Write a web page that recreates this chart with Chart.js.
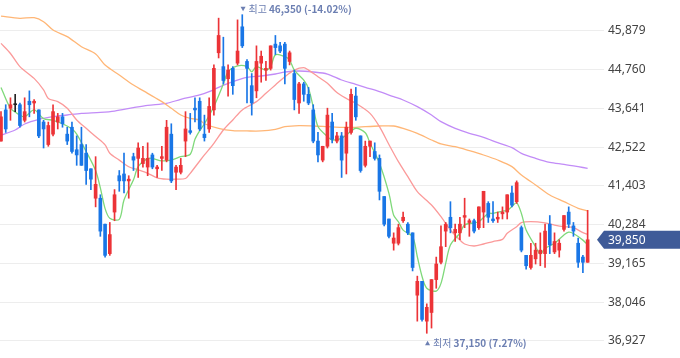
<!DOCTYPE html>
<html><head><meta charset="utf-8">
<script src="https://cdn.jsdelivr.net/npm/chart.js@4"></script>
<style>html,body{margin:0;padding:0;background:#fff;}#wrap{width:680px;height:358px;position:relative;}</style>
</head><body><div id="wrap"><canvas id="c"></canvas></div>
<script>
// ---- candle data (day 1..125) ----
const openP  = [42700,43600,43650,43750,43750,43300,43850,43800,43600,43250,42600,42900,43250,43400,42900,43100,42450,42600,42350,41900,
41050,41050,40300,39450,40650,41700,41750,41550,42250,42200,42050,41950,42300,41900,42200,42150,42900,41800,41800,42700,
43000,43650,43850,42900,43050,43600,45250,44850,44500,44800,44950,46000,45000,44300,44150,44950,44750,44800,45500,45450,
45500,45000,44650,43800,44350,44050,43600,42700,42150,42550,43250,42700,42850,42350,42950,44000,42850,42000,42550,42400,
42200,41100,40450,39750,39750,40400,40300,40050,38250,38650,37500,37750,38700,39200,40100,40500,40050,40050,40500,40350,
40400,40200,40650,40900,40450,40450,40600,40650,41200,40950,40200,39400,39050,39300,39450,39450,40300,39500,39550,40150,
40650,40250,39750,39350,39200];
const highP  = [43550,43750,43950,44050,43800,43950,44150,43900,43600,43300,43250,43750,43500,43500,43100,43250,42850,43100,42600,41900,
42250,41150,40300,40350,41300,41850,42350,41700,42350,42650,42550,42650,42350,42000,42550,43300,43200,42000,42200,43550,
43500,43950,43950,43450,43950,44900,46250,45700,44900,44850,46200,46350,45050,44650,45450,45300,45000,45450,45750,45550,
45550,45300,44750,44400,44400,44250,43750,42950,42550,43650,43500,42950,42950,43250,44200,44250,42850,42700,42700,42650,
42300,41100,40450,40050,40300,40650,40350,40050,38800,38650,38000,38700,39350,40250,40350,40950,40300,40500,41050,40450,
40450,40800,41250,40950,40950,40650,40800,41150,41400,41550,40250,39400,39750,39750,40050,40300,40550,40050,39850,40550,
40800,40350,39900,39400,40700];
const lowP   = [42700,42950,43300,43550,43100,43250,43400,43500,42800,42500,42550,42850,43050,43100,42600,42350,42000,42000,41450,41300,
40800,39950,39350,39400,40400,41250,41200,41050,41850,41650,41950,41700,41900,41650,41850,42100,41500,41300,41750,42250,
42900,43250,43000,42700,42950,43450,45100,44350,44000,44050,44900,45400,43800,43450,43950,44400,44450,44750,45200,45250,
44350,44900,43600,43500,43850,43750,42650,42100,42100,42500,42650,42650,41650,41750,42900,43300,41800,41950,42250,42150,
41000,40250,39900,39550,39700,40350,40000,38950,37500,37500,37150,37300,38450,39150,39650,40050,39800,39850,40200,39950,
40050,40150,40200,40350,40350,40350,40450,40450,40800,40900,39500,39000,39000,39150,39100,39050,39450,39450,39350,40100,
40200,39950,39050,38900,39200];
const closeP = [43400,43050,43750,43750,43150,43550,43750,43850,42850,43050,43150,43550,43400,43200,42700,42400,42300,42000,41850,41600,
41450,40100,39400,40000,41150,41550,41550,41600,42150,42500,42200,42200,41950,41950,42250,43100,41550,41950,42000,43050,
42950,43600,43050,42800,43700,44800,45750,44450,44750,44300,45300,45450,44800,43800,45000,45150,44800,45450,45400,45300,
44800,45250,43900,44350,44050,43800,42700,42300,42550,43450,42750,42850,42150,43100,44050,43400,41850,42550,42700,42200,
41250,40300,39950,39900,40200,40500,40050,39050,38650,37550,37900,38700,39150,39650,40300,40200,40150,40300,40550,40400,
40100,40800,41250,40500,40400,40500,40650,41150,40850,41500,39550,39100,39400,39550,39550,40100,39700,39800,39750,40550,
40300,40100,39200,39200,39850];

// ---- moving averages: [day, value] ----
const ma5 = [[1,44250],[3,43650],[5,43450],[6,43400],[8,43600],[10,43350],[12,43300],[14,43200],[16,43050],[17,42900],[19,42400],[21,41850],[22,41350],[23,40750],[24,40470],[26,40440],[27,41000],[29,41580],[30,41960],[32,42200],[33,42200],[35,42130],[37,42150],[39,42250],[41,42320],[42,42750],[43,43000],[44,43200],[46,43700],[48,44350],[49,44700],[51,44870],[53,44850],[54,44700],[55,44850],[57,44750],[58,44850],[59,45190],[61,45140],[62,45040],[63,44750],[65,44460],[66,44220],[67,43690],[68,43120],[70,42830],[71,42730],[73,42780],[74,42875],[76,43070],[78,42940],[79,42640],[81,42060],[83,41190],[84,40560],[85,40370],[86,40130],[88,39940],[89,39360],[90,38790],[91,38450],[93,38370],[94,38590],[95,39170],[96,39700],[98,40040],[99,40280],[101,40340],[102,40370],[104,40610],[105,40610],[107,40680],[108,40690],[109,40810],[110,40920],[111,40610],[112,40130],[114,39650],[115,39440],[116,39600],[118,39750],[120,39990],[121,40070],[122,40030],[124,39840],[125,39700]];
const ma20 = [[1,45520],[3,45230],[5,44850],[8,44510],[10,44180],[11,43930],[13,43840],[15,43650],[17,43310],[19,43070],[21,42830],[23,42590],[24,42350],[26,42150],[28,41960],[30,41870],[32,41770],[34,41640],[36,41600],[38,41600],[40,41620],[41,41770],[43,42125],[44,42300],[46,42635],[48,43020],[50,43310],[52,43600],[55,43840],[57,44080],[59,44320],[61,44560],[63,44750],[65,44820],[66,44750],[68,44560],[70,44370],[72,44100],[74,43930],[76,43790],[79,43500],[81,43116],[83,42600],[85,42105],[87,41672],[89,41240],[92,40854],[94,40517],[96,40132],[98,39843],[99,39728],[101,39670],[103,39728],[105,39800],[107,39863],[108,40036],[110,40228],[111,40344],[113,40373],[116,40340],[118,40276],[120,40228],[122,40200],[124,40055],[125,40007]];
const ma60 = [[1,46310],[5,46245],[8,46264],[10,46148],[12,45908],[15,45715],[18,45426],[21,45215],[23,44897],[26,44608],[29,44319],[32,44079],[35,43838],[37,43646],[39,43453],[41,43357],[43,43309],[44,43200],[47,43068],[50,43001],[53,42992],[56,42992],[59,43039],[61,43116],[64,43145],[67,43135],[70,43116],[73,43097],[76,43097],[78,43116],[81,43135],[84,43135],[86,43068],[89,42924],[92,42731],[94,42616],[97,42539],[100,42423],[103,42298],[106,42153],[109,41961],[111,41720],[114,41432],[117,41143],[120,40950],[123,40758],[125,40681]];
const ma120 = [[1,42875],[4,43020],[6,43193],[9,43328],[12,43405],[15,43453],[18,43501],[22,43530],[25,43568],[29,43665],[32,43732],[36,43790],[39,43905],[43,44031],[45,44127],[47,44252],[50,44416],[53,44541],[56,44579],[59,44637],[61,44695],[64,44724],[67,44695],[70,44637],[73,44464],[76,44339],[78,44252],[81,44127],[84,43982],[86,43886],[89,43694],[92,43453],[94,43261],[97,43068],[100,42924],[103,42808],[106,42654],[109,42510],[111,42346],[114,42202],[117,42086],[120,42028],[123,41961],[125,41913]];

// ---- axis ticks ----
const tickValues = [36927,38046,39165,40284,41403,42522,43641,44760,45879];
const tickLabels = ['36,927','38,046','39,165','40,284','41,403','42,522','43,641','44,760','45,879'];

// ---- annotation texts ----
const hiLabel = ['최고', '46,350 (-14.02%)'];
const loLabel = ['최저', '37,150 (7.27%)'];
const lastLabel = '39,850';

const RED = '#ec3337', BLUE = '#1976e6', DOJI = '#222222';
const days = openP.map((_, i) => i + 1);
const candleColor = days.map((d, i) => closeP[i] > openP[i] ? RED : (closeP[i] < openP[i] ? BLUE : DOJI));
const toPts = arr => arr.map(([d, v]) => ({x: d, y: v}));

const annoPlugin = {
  id: 'anno',
  afterDraw(chart) {
    const ctx = chart.ctx, xs = chart.scales.x, ys = chart.scales.y;
    const annoColor = '#6c7fb2';
    const hiVal = Math.max(...highP), hiI = highP.indexOf(hiVal);
    const loVal = Math.min(...lowP), loI = lowP.indexOf(loVal);
    ctx.save();
    ctx.textBaseline = 'middle';
    function drawAnno(i, val, labels, down, dy) {
      const x = xs.getPixelForValue(days[i]) + 0.8;
      const y = ys.getPixelForValue(val) + dy;
      ctx.fillStyle = annoColor;
      ctx.beginPath();
      if (down) { ctx.moveTo(x - 2.5, y - 2.5); ctx.lineTo(x + 2.5, y - 2.5); ctx.lineTo(x, y + 2); }
      else { ctx.moveTo(x - 2.5, y + 2.5); ctx.lineTo(x + 2.5, y + 2.5); ctx.lineTo(x, y - 2); }
      ctx.closePath(); ctx.fill();
      let tx = x + 5.5;
      ctx.font = '10px "Noto Sans CJK KR", sans-serif';
      ctx.fillText(labels[0], tx, y);
      tx += ctx.measureText(labels[0]).width + 2;
      ctx.font = 'bold 10px "Noto Sans CJK KR", sans-serif';
      ctx.fillText(labels[1], tx, y);
    }
    drawAnno(hiI, hiVal, hiLabel, true, -5.5);
    drawAnno(loI, loVal, loLabel, false, 9.5);
    // last price tag
    const yc = ys.getPixelForValue(closeP[closeP.length - 1]);
    const right = chart.width;
    ctx.fillStyle = '#3f5b98';
    ctx.beginPath();
    ctx.moveTo(597, yc);
    ctx.lineTo(604, yc - 9);
    ctx.lineTo(right, yc - 9);
    ctx.lineTo(right, yc + 9);
    ctx.lineTo(604, yc + 9);
    ctx.closePath(); ctx.fill();
    ctx.fillStyle = '#ffffff';
    ctx.font = '12px "Noto Sans", sans-serif';
    ctx.fillText(lastLabel, 608, yc + 0.5);
    ctx.restore();
  }
};

const lineDs = (data, color, order) => ({
  type: 'line', data: toPts(data), borderColor: color, borderWidth: 1.3,
  pointRadius: 0, tension: 0.3, fill: false, order
});

new Chart(document.getElementById('c'), {
  type: 'bar',
  data: {
    datasets: [
      { label: 'body', data: days.map((d, i) => ({x: d, y: [openP[i], closeP[i]]})),
        backgroundColor: candleColor, barThickness: 3, grouped: false, minBarLength: 1, order: 0 },
      { label: 'wick', data: days.map((d, i) => ({x: d, y: [lowP[i], highP[i]]})),
        backgroundColor: candleColor, barThickness: 1, grouped: false, order: 1 },
      lineDs(ma5, '#7fd97a', 2),
      lineDs(ma20, '#fb9a9a', 3),
      lineDs(ma60, '#ffb676', 4),
      lineDs(ma120, '#c28cf7', 5)
    ]
  },
  options: {
    responsive: true, maintainAspectRatio: false, animation: false,
    layout: { padding: 0, autoPadding: false },
    plugins: { legend: { display: false }, tooltip: { enabled: false } },
    scales: {
      x: { type: 'linear', min: 0.789, max: 128.46, offset: false, display: false },
      y: {
        position: 'right', min: 36436, max: 46774, beginAtZero: false,
        afterBuildTicks: s => { s.ticks = tickValues.map(v => ({value: v})); },
        afterFit: s => { s.width = 76; s.paddingTop = 0; s.paddingBottom = 0; },
        ticks: { callback: v => tickLabels[tickValues.indexOf(v)], padding: 4, color: '#444',
                 font: { family: '"Noto Sans", sans-serif', size: 12 } },
        grid: { color: '#ededed', drawTicks: false },
        border: { display: false }
      }
    }
  },
  plugins: [annoPlugin]
});
</script></body></html>
